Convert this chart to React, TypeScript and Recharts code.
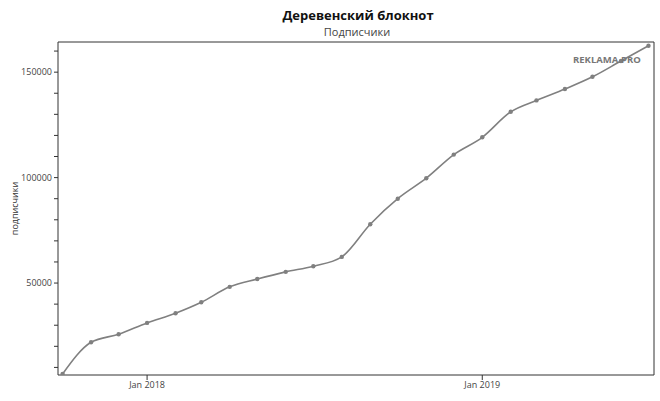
import React from 'react';
import { LineChart, Line, XAxis, YAxis, Label, ReferenceLine } from 'recharts';

const months: string[] = [
  '2017-10', '2017-11', '2017-12',
  '2018-01', '2018-02', '2018-03', '2018-04', '2018-05', '2018-06',
  '2018-07', '2018-08', '2018-09', '2018-10', '2018-11', '2018-12',
  '2019-01', '2019-02', '2019-03', '2019-04', '2019-05', '2019-06', '2019-07',
];

const subscribers: number[] = [
  6900, 21900, 25700,
  31100, 35700, 40900, 48200, 51900, 55300,
  58000, 62400, 77900, 90000, 99700, 110900,
  119100, 131200, 136600, 142000, 147800, 155300, 162500,
];

const xTickDates: string[] = ['2018-01', '2019-01'];
const xTickLabels: string[] = ['Jan 2018', 'Jan 2019'];
const yTicks: number[] = [10000, 20000, 30000, 40000, 50000, 60000, 70000, 80000, 90000, 100000, 110000, 120000, 130000, 140000, 150000, 160000];
const yLabelEvery = 50000;

const toTs = (m: string) => {
  const [y, mo] = m.split('-').map(Number);
  return Date.UTC(y, mo - 1, 1);
};

const data = months.map((m, i) => ({ t: toTs(m), v: subscribers[i] }));
const xTicks = xTickDates.map(toTs);

const xMin = Date.UTC(2017, 8, 26);
const xMax = Date.UTC(2019, 6, 7);
const yMin = 6400;
const yMax = 164300;

const FONT = '"Open Sans", "Noto Sans", sans-serif';
const AXIS = '#333';
const LINE = '#808080';

export default function App() {
  return (
    <div style={{ position: 'absolute', left: 0, top: 0, width: 660, height: 401, background: '#fff', fontFamily: FONT }}>
      <div style={{ position: 'absolute', left: 0, width: 716, top: 8, textAlign: 'center', fontSize: 13, fontWeight: 700, color: '#111', lineHeight: '14px' }}>
        Деревенский блокнот
      </div>
      <div style={{ position: 'absolute', left: 0, width: 714, top: 26, textAlign: 'center', fontSize: 11, color: '#444', lineHeight: '12px' }}>
        Подписчики
      </div>
      <LineChart width={660} height={401} data={data} margin={{ top: 42, right: 6, bottom: 0, left: 0 }}>
        <XAxis
          dataKey="t"
          type="number"
          domain={[xMin, xMax]}
          allowDataOverflow
          ticks={xTicks}
          tickFormatter={(v: number) => xTickLabels[xTicks.indexOf(v)] ?? ''}
          height={26}
          axisLine={{ stroke: AXIS, strokeWidth: 1 }}
          tickLine={{ stroke: AXIS }}
          tickSize={5}
          tick={{ fontSize: 9, fill: '#444', fontFamily: FONT }}
        />
        <YAxis
          type="number"
          domain={[yMin, yMax]}
          allowDataOverflow
          ticks={yTicks}
          interval={0}
          tickFormatter={(v: number) => (v % yLabelEvery === 0 ? String(v) : '')}
          width={58}
          axisLine={{ stroke: AXIS, strokeWidth: 1 }}
          tickLine={{ stroke: AXIS }}
          tickSize={4}
          tick={{ fontSize: 9, fill: '#444', fontFamily: FONT }}
        >
          <Label value="подписчики" angle={-90} position="insideLeft" offset={15} style={{ fontSize: 9, fill: '#333', fontFamily: FONT, textAnchor: 'middle' }} />
        </YAxis>
        <ReferenceLine y={yMax} stroke={AXIS} strokeWidth={1} ifOverflow="extendDomain" />
        <ReferenceLine x={xMax} stroke={AXIS} strokeWidth={1} ifOverflow="extendDomain" />
        <Line
          type="monotone"
          dataKey="v"
          stroke={LINE}
          strokeWidth={1.6}
          dot={{ r: 2.2, fill: LINE, stroke: 'none' }}
          activeDot={false}
          isAnimationActive={false}
        />
      </LineChart>
      <div style={{ position: 'absolute', left: 573, top: 53, fontSize: 9.5, fontWeight: 700, color: '#777', lineHeight: '14px' }}>
        REKLAMA.PRO
      </div>
    </div>
  );
}
